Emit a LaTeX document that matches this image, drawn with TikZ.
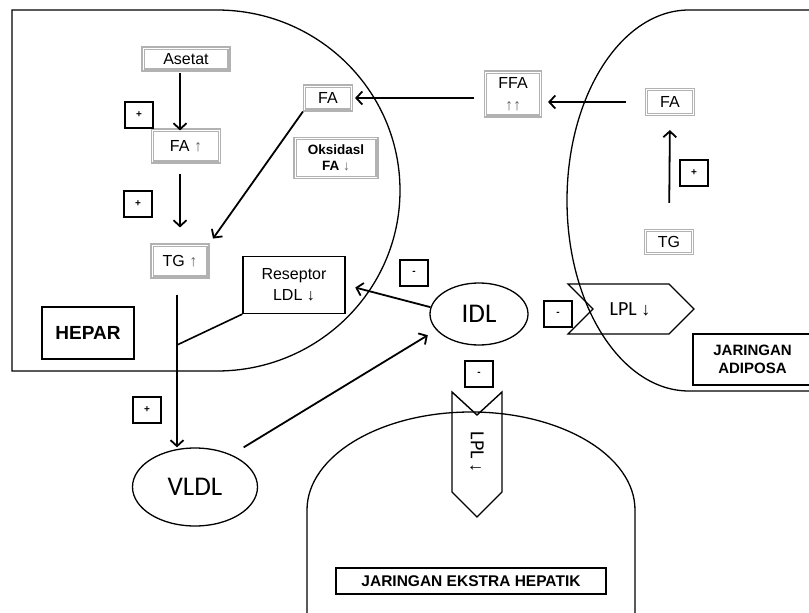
\documentclass[tikz,border=0pt]{standalone}
\usepackage{fontspec}
\setmainfont{Liberation Sans}
\newfontfamily\calib{Carlito}
\newcommand{\ga}[1]{{\color{black!60}#1}}
\usetikzlibrary{arrows.meta,shapes.geometric}
\begin{document}
\begin{tikzpicture}[x=1pt,y=-1pt,
 region/.style={line width=1.3pt},
 gbox/.style={draw=black!30, line width=1.1pt, inner sep=0pt, font=\fontsize{16}{18}\selectfont, align=center,
   append after command={\pgfextra{\draw[black!30, line width=1.1pt]
     ([shift={(2.6pt,2.6pt)}]\tikzlastnode.south west) rectangle ([shift={(-2.6pt,-2.6pt)}]\tikzlastnode.north east);}}},
 bbox/.style={draw, line width=1.2pt, inner sep=0pt, align=center},
 sbox/.style={draw, line width=1.3pt, minimum width=28pt, minimum height=26pt, inner sep=0pt, font=\bfseries\fontsize{10}{12}\selectfont},
 arr/.style={line width=1.8pt, -{Straight Barb[length=6pt,width=13pt]}},
 conn/.style={line width=1.6pt},
 ell/.style={draw, ellipse, line width=1.3pt, inner sep=0pt, font=\calib\fontsize{27}{30}\selectfont},
 lpl/.style={line width=1.4pt, line join=miter},
]
\useasboundingbox (0,0) rectangle (809,613);
\fill[white] (0,0) rectangle (809,613);

% regions
\draw[region] (217,371) -- (12,371) -- (12,10) -- (217,10)
  arc[start angle=-90, end angle=90, x radius=183, y radius=180.5];
\draw[region] (815,10) -- (689,10)
  arc[start angle=-90, end angle=-270, x radius=122, y radius=190.5] -- (815,391);
\draw[region] (307,620) -- (307,510)
  arc[start angle=180, end angle=360, x radius=164, y radius=98] -- (635,620);

% hepar nodes
\node[gbox, minimum width=88pt, minimum height=24pt] (asetat) at (186,59) {Asetat};
\node[gbox, minimum width=69pt, minimum height=34pt] (fa1) at (186,146) {FA \ga{↑}};
\node[gbox, minimum width=58pt, minimum height=34pt] (tg1) at (180,261) {TG \ga{↑}};
\node[gbox, minimum width=49pt, minimum height=26pt] (fah) at (328,98) {FA};
\node[gbox, minimum width=84pt, minimum height=41pt, font=\bfseries\fontsize{13.5}{16}\selectfont] (oks) at (336,158) {Oksidasl\\FA \ga{↓}};
\node[bbox, minimum width=102pt, minimum height=57pt, font=\fontsize{16}{21}\selectfont] (resep) at (294,285) {Reseptor\\LDL ↓};
\node[bbox, minimum width=92pt, minimum height=52pt, font=\bfseries\fontsize{19}{22}\selectfont] (hepar) at (88,333) {HEPAR};

\node[sbox] (p1) at (139,115) {+};
\node[sbox] (p2) at (138,204) {+};
\node[sbox] (p3) at (147,410) {+};
\node[sbox] (p4) at (694,173) {+};
\node[sbox] (m1) at (414,273) {-};
\node[sbox] (m2) at (558,314) {-};
\node[sbox] (m3) at (479,374) {-};

\node[ell, minimum width=98pt, minimum height=62pt] (idl) at (479,314) {IDL};
\node[ell, minimum width=125pt, minimum height=78pt] (vldl) at (195,487) {VLDL};

% adipose nodes
\node[gbox, minimum width=57pt, minimum height=46pt, font=\fontsize{16}{22}\selectfont] (ffa) at (513,94) {FFA\\\ga{↑↑}};
\node[gbox, minimum width=49pt, minimum height=27pt] (faa) at (670,102) {FA};
\node[gbox, minimum width=49pt, minimum height=25pt] (tga) at (669,242) {TG};
\node[bbox, minimum width=119pt, minimum height=51pt, font=\bfseries\fontsize{15}{18.5}\selectfont] (adip) at (752.5,359.5) {JARINGAN\\ADIPOSA};
\node[bbox, minimum width=270pt, minimum height=26pt, font=\bfseries\fontsize{15.5}{18}\selectfont] (ekstra) at (471,581) {JARINGAN EKSTRA HEPATIK};

% LPL shapes
\draw[lpl] (568,284) -- (669,284) -- (694,309) -- (669,334) -- (568,334) -- (593,309) -- cycle;
\node[font=\calib\fontsize{20}{22}\selectfont] (lplh) at (630,309) {LPL {\rmfamily\fontsize{18}{20}\selectfont ↓}};
\draw[lpl] (452,392) -- (477,415) -- (502,392) -- (502,492) -- (477,517) -- (452,492) -- cycle;
\node[font=\calib\fontsize{20}{22}\selectfont, rotate=-90] (lplv) at (477,452) {LPL {\rmfamily\fontsize{18}{20}\selectfont ↓}};

% connectors
\draw[arr, shorten <=1pt, shorten >=-2pt] ([xshift=-6pt]asetat.south) -- ([xshift=-6pt]fa1.north);
\draw[arr, shorten <=10pt, shorten >=16pt] (fa1.south -| tg1.north) -- (tg1.north);
\draw[arr, shorten >=6pt] (fah.south west) -- (tg1.north east);
\coordinate (j) at (177,345);
\draw[conn, shorten <=16pt] (tg1.south -| j) -- (j);
\draw[arr] (j) -- (vldl.north -| j);
\draw[conn] (j) -- (resep.south west);
\draw[arr, shorten <=57pt, shorten >=60pt] ([yshift=10pt]vldl.center) -- ([yshift=10pt]idl.center);
\draw[arr, shorten >=10pt] (idl.172) -- (resep.east);
\draw[arr, shorten <=19pt, shorten >=6pt] (faa.west) -- (faa.west -| ffa.east);
\draw[arr, shorten <=9.5pt, shorten >=2pt] (ffa.west |- fah.east) -- (fah.east);
\draw[arr, shorten <=26pt, shorten >=14pt] (tga.north) -- (faa.south);
\end{tikzpicture}
\end{document}
